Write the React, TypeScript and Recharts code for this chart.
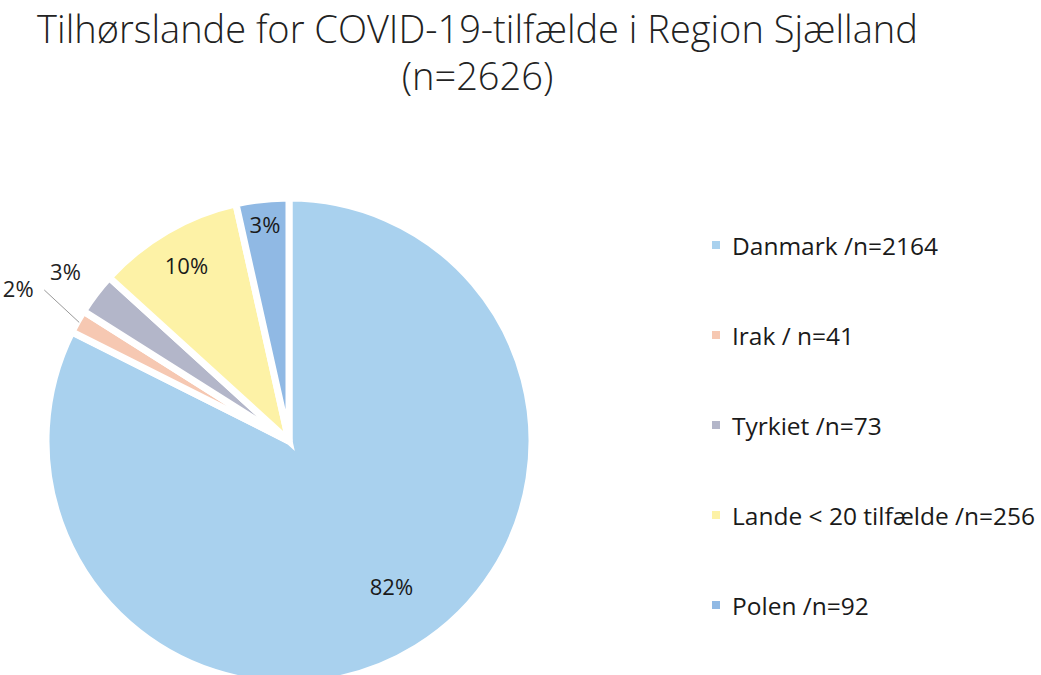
import { PieChart, Pie, Cell, Legend } from "recharts"

const countries = ["Danmark /n=2164", "Irak / n=41", "Tyrkiet /n=73", "Lande < 20 tilfælde /n=256", "Polen /n=92"]
const cases = [2164, 41, 73, 256, 92]
const pctLabels = ["82%", "2%", "3%", "10%", "3%"]
const colors = ["#a9d1ee", "#f6c8b2", "#b3b6c9", "#fdf2a6", "#90b9e4"]

const data = countries.map((name, i) => ({ name, value: cases[i] }))

const RAD = Math.PI / 180
const font = "Open Sans, Noto Sans, sans-serif"

function renderLabel(props: any) {
  const { cx, cy, midAngle, outerRadius, percent, index } = props
  const cos = Math.cos(-midAngle * RAD)
  const sin = Math.sin(-midAngle * RAD)
  if (percent < 0.03) {
    // small slices get an outside label
    const r = outerRadius + (index === 1 ? 68 : 38)
    const x = cx + r * cos
    const y = cy + r * sin
    return (
      <g>
        {index === 1 && (
          <polyline
            points={`${cx + (outerRadius - 2) * cos},${cy + (outerRadius - 2) * sin} ${x + 26},${y + 2}`}
            fill="none"
            stroke="#999"
            strokeWidth={1}
          />
        )}
        <text x={x} y={y} textAnchor="middle" dominantBaseline="central" fill="#222" fontSize={22} fontFamily={font}>
          {pctLabels[index]}
        </text>
      </g>
    )
  }
  const r = outerRadius * (percent > 0.5 ? 0.74 : percent > 0.05 ? 0.84 : 0.9)
  const shift = percent > 0.5 ? 8 : 0
  return (
    <text x={cx + r * cos + shift} y={cy + r * sin - shift} textAnchor="middle" dominantBaseline="central" fill="#1a1a1a" fontSize={22} fontFamily={font}>
      {pctLabels[index]}
    </text>
  )
}

function LegendList() {
  return (
    <ul style={{ listStyle: "none", margin: 0, padding: 0 }}>
      {countries.map((name, i) => (
        <li key={name} style={{ height: 90, display: "flex", alignItems: "center", fontFamily: font, fontSize: 24.5, color: "#1a1a1a" }}>
          <span style={{ display: "inline-block", width: 8, height: 8, background: colors[i], marginRight: 12 }} />
          {name}
        </li>
      ))}
    </ul>
  )
}

export default function App() {
  return (
    <div style={{ position: "absolute", left: 0, top: 0, width: 1041, height: 675, background: "#fff", overflow: "hidden" }}>
      <div style={{ position: "absolute", left: 0, top: 5, width: 955, textAlign: "center", fontFamily: font, fontSize: 38, fontWeight: 300, color: "#222", lineHeight: "47px" }}>
        Tilhørslande for COVID-19-tilfælde i Region Sjælland
        <br />
        (n=2626)
      </div>
      <PieChart width={1041} height={675}>
        <Pie
          data={data}
          dataKey="value"
          nameKey="name"
          cx={284}
          cy={436}
          outerRadius={243}
          startAngle={90}
          endAngle={-270}
          stroke="#fff"
          strokeWidth={7}
          label={renderLabel}
          labelLine={false}
          isAnimationActive={false}
        >
          {data.map((d, i) => (
            <Cell key={d.name} fill={colors[i]} />
          ))}
        </Pie>
        <Legend
          layout="vertical"
          align="right"
          verticalAlign="top"
          wrapperStyle={{ left: 712, top: 200, width: 330 }}
          content={<LegendList />}
        />
      </PieChart>
    </div>
  )
}
